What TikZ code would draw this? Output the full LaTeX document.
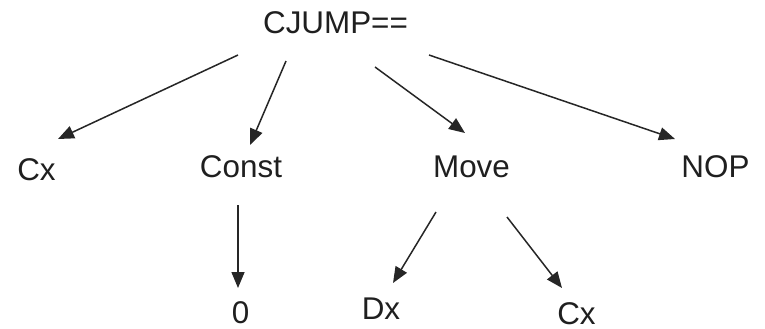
\documentclass[tikz,border=0pt]{standalone}
\usepackage{fontspec}
\setmainfont{Liberation Sans}
\usepackage{tikz}
\usetikzlibrary{arrows.meta}

\tikzset{
    lbl/.style={anchor=base, inner sep=0pt, font=\fontsize{15.7}{19}\selectfont, text=black!88},
    edge/.style={line width=0.75pt, draw=black!85, -{Triangle[length=8pt,width=6.5pt]}}
}

\begin{document}
\begin{tikzpicture}[x=0.5pt, y=-0.5pt]
    \useasboundingbox (0,0) rectangle (765,328);

    % labels of the tree
    \node[lbl] (root) at (335.5,33) {CJUMP==};
    \node[lbl] (cx) at (36.5,180) {Cx};
    \node[lbl] (const) at (241,177) {Const};
    \node[lbl] (move) at (471.5,177) {Move};
    \node[lbl] (nop) at (715.5,177) {NOP};
    \node[lbl] (zero) at (240.5,323) {0};
    \node[lbl] (dx) at (381,319) {Dx};
    \node[lbl] (cxb) at (576.5,324) {Cx};

    % arrows, first level
    \draw[edge] ([shift={(-97.5,22)}]root.base) -- ([shift={(21.5,-41)}]cx.base);
    \draw[edge] ([shift={(-49.5,28)}]root.base) -- ([shift={(9,-32)}]const.base);
    \draw[edge] ([shift={(39.5,34)}]root.base) -- ([shift={(-6.5,-44)}]move.base);
    \draw[edge] ([shift={(93.5,22)}]root.base) -- ([shift={(-40.5,-38)}]nop.base);

    % arrows, second level
    \draw[edge] ([shift={(-3,28)}]const.base) -- ([shift={(-2.5,-35)}]zero.base);
    \draw[edge] ([shift={(-35.5,35)}]move.base) -- ([shift={(12,-36)}]dx.base);
    \draw[edge] ([shift={(35.5,40)}]move.base) -- ([shift={(-14.5,-36)}]cxb.base);
\end{tikzpicture}
\end{document}
